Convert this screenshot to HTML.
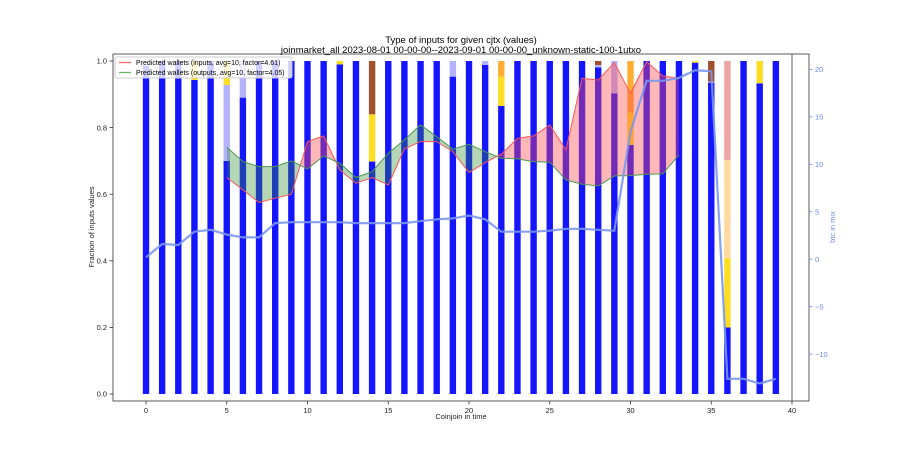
<!DOCTYPE html>
<html><head><meta charset="utf-8"><style>
body{margin:0;background:#fff;}
svg text{font-family:"Liberation Sans","DejaVu Sans",sans-serif;}
</style></head><body>
<svg id="chart" width="900" height="450" xmlns="http://www.w3.org/2000/svg">
<text x="461" y="43" font-size="9.5" text-anchor="middle">Type of inputs for given cjtx (values)</text>
<text x="461" y="53" font-size="9.5" text-anchor="middle">joinmarket_all 2023-08-01 00-00-00--2023-09-01 00-00-00_unknown-static-100-1utxo</text>
<g id="bars"></g>
<g id="fills"></g>
<g id="lines"></g>
<g id="axes"></g>
<g>
<rect x="115" y="57" width="177" height="21" fill="#fff" fill-opacity="0.8" stroke="#ccc" rx="2"/>
<line x1="119" y1="62.5" x2="131" y2="62.5" stroke="#ff6666" stroke-width="1.3"/>
<text x="136" y="65" font-size="7">Predicted wallets (inputs, avg=10, factor=4.61)</text>
<line x1="119" y1="72.5" x2="131" y2="72.5" stroke="#66b266" stroke-width="1.3"/>
<text x="136" y="75" font-size="7">Predicted wallets (outputs, avg=10, factor=4.05)</text>
</g>
</svg>
<script>
const blueFrac=[0.985,1,1,0.943,1,0.70,0.89,1,1,1,1,1,0.99,1,0.698,1,1,1,1,0.953,1,0.988,0.865,1,1,1,1,1,0.981,0.903,0.748,1,1,1,0.995,0.935,0.2,1,0.933,1];
const lightBlueFrac=[0.015,0,0,0,0,0.228,0.11,0,0,0,0,0,0,0,0,0,0,0,0,0.047,0,0.012,0,0,0,0,0,0,0.007,0.097,0,0,0,0,0,0.003,0,0,0,0];
const yellowFrac=[0,0,0,0.057,0,0.072,0,0,0,0,0,0,0.01,0,0.142,0,0,0,0,0,0,0,0.088,0,0,0,0,0,0,0,0.097,0,0,0,0.005,0,0.208,0,0.067,0];
const orangeFrac=[0,0,0,0,0,0,0,0,0,0,0,0,0,0,0,0,0,0,0,0,0,0,0.047,0,0,0,0,0,0,0,0.155,0,0,0,0,0,0,0,0,0];
const peachFrac=[0,0,0,0,0,0,0,0,0,0,0,0,0,0,0,0,0,0,0,0,0,0,0,0,0,0,0,0,0,0,0,0,0,0,0,0,0.295,0,0,0];
const pinkFrac=[0,0,0,0,0,0,0,0,0,0,0,0,0,0,0,0,0,0,0,0,0,0,0,0,0,0,0,0,0,0,0,0,0,0,0,0,0.297,0,0,0];
const brownFrac=[0,0,0,0,0,0,0,0,0,0,0,0,0,0,0.16,0,0,0,0,0,0,0,0,0,0,0,0,0,0.012,0,0,0,0,0,0,0.062,0,0,0,0];
const walletX=[5,6,7,8,9,10,11,12,13,14,15,16,17,18,19,20,21,22,23,24,25,26,27,28,29,30,31,32,33];
const inputsWallets=[0.65,0.613,0.575,0.588,0.60,0.758,0.775,0.673,0.633,0.65,0.628,0.736,0.758,0.758,0.728,0.665,0.695,0.72,0.768,0.775,0.808,0.733,0.948,0.943,0.995,0.903,0.998,0.955,0.948];
const outputsWallets=[0.741,0.698,0.683,0.683,0.70,0.676,0.715,0.693,0.65,0.668,0.723,0.763,0.808,0.773,0.735,0.75,0.728,0.708,0.706,0.698,0.696,0.643,0.63,0.625,0.655,0.656,0.66,0.661,0.718];
const btcInMix=[0.2,1.6,1.5,2.9,3.1,2.6,2.3,2.3,3.8,3.9,3.9,3.9,3.9,3.8,3.8,3.8,3.8,4.0,4.2,4.3,4.6,4.2,2.9,2.9,2.9,3.0,3.2,3.2,3.1,3.0,13.4,18.8,18.8,19.1,19.9,19.8,-12.6,-12.6,-13.1,-12.6];
const xTicks=[0,5,10,15,20,25,30,35,40];
const yTicks=[0,0.2,0.4,0.6,0.8,1.0];
const y2Ticks=[20,15,10,5,0,-5,-10];

const NS="http://www.w3.org/2000/svg";
const L=113,R=809,T=54,B=401;
const X=v=>146+v*16.15;
const Y=v=>394-v*333;
const Y2=v=>259.2-v*9.49;
function mk(tag,attrs,parent){const e=document.createElementNS(NS,tag);for(const k in attrs)e.setAttribute(k,attrs[k]);document.getElementById(parent).appendChild(e);return e;}

const stacks=[[blueFrac,"#1515ff"],[lightBlueFrac,"#b3b3ff"],[yellowFrac,"#ffdd22"],[orangeFrac,"#ffad33"],[peachFrac,"#ffd9a0"],[pinkFrac,"#f0a5a5"],[brownFrac,"#a0522d"]];
for(let i=0;i<blueFrac.length;i++){
  let base=0;
  for(const [arr,col] of stacks){
    const v=arr[i];
    if(v>0){
      const r=mk("rect",{x:X(i)-3.2,y:Y(base+v),width:6.4,height:Y(base)-Y(base+v),fill:col},"bars");
      
      
    }
    base+=v;
  }
}
// fills
const ptsR=walletX.map((x,i)=>[X(x),Y(inputsWallets[i])]);
const ptsG=walletX.map((x,i)=>[X(x),Y(outputsWallets[i])]);
const str=a=>a.map(p=>p[0].toFixed(1)+","+p[1].toFixed(1)).join(" ");
const between=str(ptsR)+" "+str(ptsG.slice().reverse());
const defs=mk("defs",{},"fills");
const cpR=mk("clipPath",{id:"aboveG"},"fills");defs.appendChild(cpR);
const cpRp=document.createElementNS(NS,"polygon");cpRp.setAttribute("points",str(ptsG)+` ${X(walletX[walletX.length-1])},0 ${X(walletX[0])},0`);cpR.appendChild(cpRp);
const cpG=mk("clipPath",{id:"aboveR"},"fills");defs.appendChild(cpG);
const cpGp=document.createElementNS(NS,"polygon");cpGp.setAttribute("points",str(ptsR)+` ${X(walletX[walletX.length-1])},0 ${X(walletX[0])},0`);cpG.appendChild(cpGp);
const fr=mk("polygon",{points:between,fill:"#ff4d4d","fill-opacity":0.4,"clip-path":"url(#aboveG)"},"fills");


const fg=mk("polygon",{points:between,fill:"#2e8b2e","fill-opacity":0.35,"clip-path":"url(#aboveR)"},"fills");


const lr=mk("polyline",{points:str(ptsR),fill:"none",stroke:"#ff5555","stroke-width":1},"lines");


const lg=mk("polyline",{points:str(ptsG),fill:"none",stroke:"#4c994c","stroke-width":1},"lines");


const lb=mk("polyline",{points:str(btcInMix.map((v,i)=>[X(i),Y2(v)])),fill:"none",stroke:"#7a96ee","stroke-width":2.2,"stroke-opacity":0.9},"lines");


// axes
mk("rect",{x:L,y:T,width:R-L,height:B-T,fill:"none",stroke:"#333","stroke-width":0.8},"axes");
mk("line",{x1:X(40),y1:T,x2:X(40),y2:B,stroke:"#333","stroke-width":0.8},"axes");
for(const t of xTicks){
  mk("line",{x1:X(t),y1:B,x2:X(t),y2:B+3.5,stroke:"#333","stroke-width":0.8},"axes");
  const tx=mk("text",{x:X(t),y:B+12,"font-size":7.5,"text-anchor":"middle",fill:"#222"},"axes");tx.textContent=t;
  
  
}
for(const t of yTicks){
  mk("line",{x1:L-3.5,y1:Y(t),x2:L,y2:Y(t),stroke:"#333","stroke-width":0.8},"axes");
  const tx=mk("text",{x:L-6,y:Y(t)+2.7,"font-size":7.5,"text-anchor":"end",fill:"#222"},"axes");tx.textContent=t.toFixed(1);
  
  
}
for(const t of y2Ticks){
  mk("line",{x1:R,y1:Y2(t),x2:R+3.5,y2:Y2(t),stroke:"#6b8be8","stroke-width":0.8},"axes");
  const tx=mk("text",{x:R+6,y:Y2(t)+2.7,"font-size":7.5,fill:"#6b8be8"},"axes");tx.textContent=t<0?"\u2212"+(-t):t;
  
  
}
const xt=mk("text",{x:461,y:419,"font-size":7.5,"text-anchor":"middle",fill:"#222"},"axes");xt.textContent="Coinjoin in time";


const yt=mk("text",{x:0,y:0,"font-size":7.5,"text-anchor":"middle",fill:"#222",transform:"translate(94,227) rotate(-90)"},"axes");yt.textContent="Fraction of inputs values";


const y2t=mk("text",{x:0,y:0,"font-size":7.5,"text-anchor":"middle",fill:"#6b8be8",transform:"translate(835,227) rotate(-90)"},"axes");y2t.textContent="btc in mix";


</script>
</body></html>
